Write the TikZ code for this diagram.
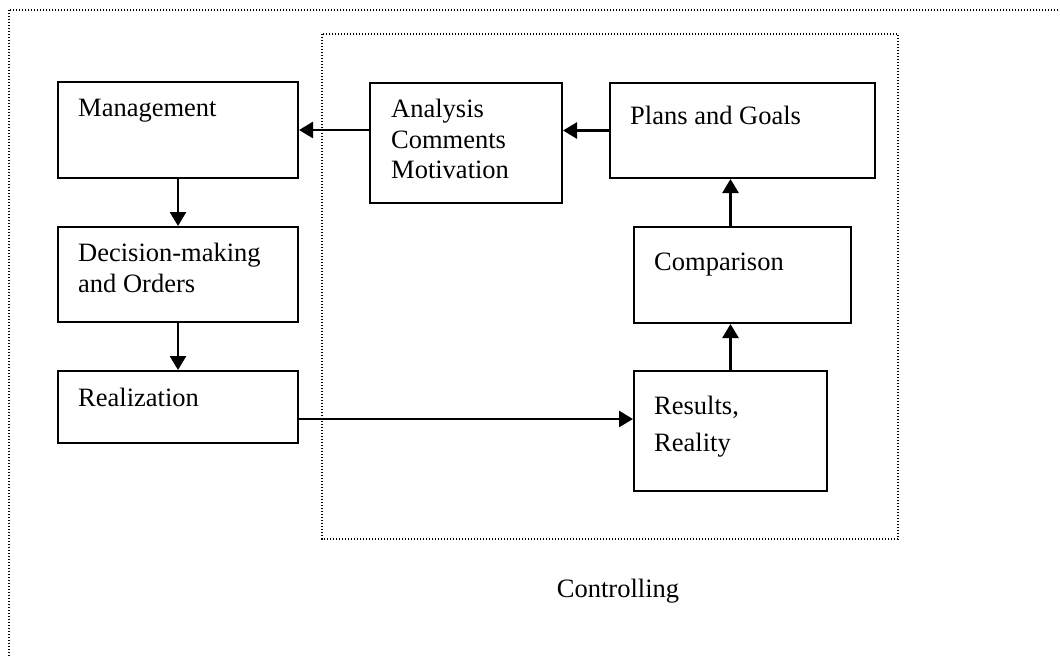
\documentclass[tikz,border=0pt]{standalone}
\usepackage{fontspec}
\setmainfont{Liberation Serif}
\usetikzlibrary{arrows.meta,positioning}
\begin{document}
\begin{tikzpicture}[x=1pt, y=-1pt,
  box/.style={draw, line width=2pt, inner sep=0pt},
  txt/.style={inner sep=0pt, align=left, font=\fontsize{26.5}{30.5}\selectfont},
  arr/.style={line width=2.6pt, -{Triangle[length=14pt,width=16pt]}},
  dots/.style={line width=1.4pt, dash pattern=on 1.4pt off 1.6pt}]
\useasboundingbox (0,0) rectangle (1060,657);
\clip (0,0) rectangle (1060,657);
% frames
\draw[dots] (9,10) rectangle (1080,680);
\draw[dots] (322,34) rectangle (898,539);
\node[txt, anchor=base] (ctrl) at (618,597) {Controlling};
% left column
\node[box, minimum width=240pt, minimum height=96pt] (mgmt) at (178,130) {};
\node[box, minimum width=240pt, minimum height=95pt] (dec) at (178,274.5) {};
\node[box, minimum width=240pt, minimum height=72pt] (real) at (178,407) {};
% right part
\node[box, minimum width=192pt, minimum height=120pt] (anlys) at (466,143) {};
\node[box, minimum width=265pt, minimum height=95pt] (plans) at (742.5,130.5) {};
\node[box, minimum width=217pt, minimum height=96pt] (comp) at (742.5,275) {};
\node[box, minimum width=193pt, minimum height=120pt] (res) at (730.5,431) {};
% texts
\node[txt, below right=17.5pt and 21pt of mgmt.north west] (mgmt-t) {Management};
\node[txt, below right=17pt and 21pt of dec.north west] (dec-t) {Decision-making\\and Orders};
\node[txt, below right=18pt and 21pt of real.north west] (real-t) {Realization};
\node[txt, below right=17pt and 22pt of anlys.north west] (anlys-t) {Analysis\\Comments\\Motivation};
\node[txt, below right=24pt and 21pt of plans.north west] (plans-t) {Plans and Goals};
\node[txt, below right=27pt and 21pt of comp.north west] (comp-t) {Comparison};
\node[txt, below right=26pt and 21pt of res.north west] (res-t) {Results,\\[6pt]Reality};
% arrows
\draw[arr] (mgmt) -- (dec);
\draw[arr] (dec) -- (real);
\draw[arr] ([yshift=-12pt]real.east) coordinate (r) -- (r -| res.west);
\draw[arr] (res.north) -- (res.north |- comp.south);
\draw[arr] (res.north |- comp.north) -- (res.north |- plans.south);
\draw[arr] (plans.west) -- (plans.west -| anlys.east);
\draw[arr] (anlys.west |- mgmt.east) -- (mgmt.east);
\end{tikzpicture}
\end{document}
